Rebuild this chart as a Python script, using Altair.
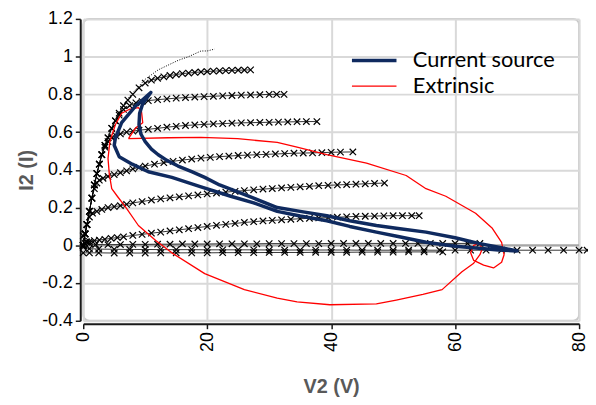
import altair as alt
import pandas as pd

# ---------------- data ----------------
# measured I-V curves (V2 in V, I2 in A), crosses
a_x = [0, 0.3, 0.6, 1, 1.4, 1.8, 2.2, 2.6, 3, 3.5, 4, 4.6, 5.2, 5.8, 6.5, 7.2, 8, 9, 10, 11, 12, 13, 14, 15, 16, 17, 18, 19, 20, 21, 22, 23, 24, 25, 26, 27]
a_y = [0, 0.06, 0.11, 0.18, 0.25, 0.32, 0.38, 0.43, 0.48, 0.53, 0.57, 0.62, 0.66, 0.7, 0.74, 0.77, 0.8, 0.835, 0.86, 0.875, 0.885, 0.893, 0.9, 0.905, 0.91, 0.913, 0.916, 0.919, 0.921, 0.923, 0.925, 0.926, 0.927, 0.928, 0.929, 0.93]

b_x = [0, 0.3, 0.6, 1, 1.4, 1.8, 2.2, 2.6, 3, 3.5, 4, 4.6, 5.2, 5.8, 6.5, 7.5, 8.5, 9.5, 10.5, 12, 13.5, 15, 16.5, 18, 19.5, 21, 22.5, 24, 25.5, 27, 28.5, 30, 31.2, 32.4]
b_y = [0, 0.06, 0.11, 0.18, 0.25, 0.32, 0.38, 0.43, 0.48, 0.53, 0.57, 0.62, 0.66, 0.69, 0.72, 0.74, 0.755, 0.762, 0.767, 0.772, 0.776, 0.78, 0.783, 0.786, 0.788, 0.79, 0.792, 0.794, 0.796, 0.797, 0.798, 0.8, 0.8, 0.8]

c_x = [0, 0.3, 0.6, 1, 1.4, 1.8, 2.2, 2.6, 3, 3.5, 4, 4.6, 5.3, 6, 7, 8, 9, 10.5, 12, 13.5, 15, 16.5, 18, 19.5, 21, 22.5, 24, 25.5, 27, 28.5, 30, 31.5, 33, 34.5, 36, 37.7]
c_y = [0, 0.06, 0.11, 0.18, 0.25, 0.32, 0.38, 0.43, 0.48, 0.52, 0.55, 0.57, 0.58, 0.59, 0.6, 0.605, 0.61, 0.615, 0.62, 0.626, 0.631, 0.635, 0.638, 0.641, 0.643, 0.645, 0.647, 0.649, 0.65, 0.651, 0.652, 0.653, 0.654, 0.655, 0.656, 0.656]

d_x = [0, 0.3, 0.6, 1, 1.4, 1.8, 2.2, 2.6, 3.2, 4, 5, 6, 7, 8, 9, 10, 11.5, 13, 14.5, 16, 17.5, 19, 20.5, 22, 23.5, 25, 26.5, 28, 29.5, 31, 32.5, 34, 35.5, 37, 38.5, 40, 41.5, 43.5]
d_y = [0, 0.06, 0.11, 0.18, 0.25, 0.3, 0.33, 0.345, 0.355, 0.365, 0.375, 0.385, 0.395, 0.405, 0.413, 0.42, 0.43, 0.438, 0.445, 0.452, 0.457, 0.462, 0.466, 0.47, 0.473, 0.476, 0.478, 0.48, 0.482, 0.484, 0.486, 0.488, 0.489, 0.49, 0.491, 0.493, 0.494, 0.495]

e_x = [0, 0.3, 0.6, 1, 1.5, 2.2, 3, 4, 5, 6, 7, 8, 9.5, 11, 12.5, 14, 15.5, 17, 18.5, 20, 21.5, 23, 24.5, 26, 27.5, 29, 30.5, 32, 33.5, 35, 36.5, 38, 39.5, 41, 42.5, 44, 45.5, 47, 48.6]
e_y = [0, 0.06, 0.11, 0.15, 0.17, 0.18, 0.19, 0.2, 0.205, 0.21, 0.217, 0.225, 0.232, 0.24, 0.246, 0.252, 0.257, 0.262, 0.267, 0.272, 0.277, 0.282, 0.286, 0.29, 0.294, 0.298, 0.301, 0.304, 0.307, 0.31, 0.313, 0.316, 0.318, 0.32, 0.322, 0.324, 0.326, 0.328, 0.33]

f_x = [0, 0.3, 0.6, 1, 1.8, 2.6, 3.5, 4.5, 5.5, 6.5, 8, 9.5, 11, 12.5, 14, 15.5, 17, 18.5, 20, 21.5, 23, 24.5, 26, 27.5, 29, 30.5, 32, 33.5, 35, 36.5, 38, 39.5, 41, 42.5, 44, 45.5, 47, 48.5, 50, 51.5, 53, 54.2]
f_y = [0, 0.01, 0.015, 0.02, 0.025, 0.028, 0.032, 0.037, 0.041, 0.045, 0.052, 0.058, 0.064, 0.07, 0.076, 0.082, 0.088, 0.094, 0.1, 0.106, 0.111, 0.116, 0.121, 0.125, 0.129, 0.132, 0.135, 0.138, 0.141, 0.143, 0.145, 0.147, 0.149, 0.151, 0.153, 0.154, 0.155, 0.156, 0.157, 0.157, 0.157, 0.157]

g_x = [0, 0.5, 1, 2, 4, 6, 8, 10, 12, 14, 16, 18, 20, 22, 24, 26, 28, 30, 32, 34, 36, 38, 40, 42, 44, 46, 48, 50, 52, 54, 56, 58, 60, 62, 64]
g_y = [0.05, 0.02, 0.01, 0.004, 0.003, 0.004, 0.005, 0.005, 0.006, 0.006, 0.007, 0.007, 0.007, 0.008, 0.008, 0.008, 0.008, 0.009, 0.009, 0.009, 0.009, 0.009, 0.01, 0.01, 0.01, 0.01, 0.01, 0.01, 0.01, 0.01, 0.01, 0.01, 0.01, 0.01, 0.01]

h_x = [0, 1, 2.5, 5, 7.5, 10, 12.5, 15, 17.5, 20, 22.5, 25, 27.5, 30, 32.5, 35, 37.5, 40, 42.5, 45, 47.5, 50, 52.5, 55, 57.5, 60, 62.5, 65, 67.5, 70, 72.5, 75, 77.5, 80, 81.3]
h_y = [-0.01, -0.018, -0.02, -0.021, -0.022, -0.022, -0.023, -0.023, -0.023, -0.024, -0.024, -0.024, -0.024, -0.025, -0.025, -0.025, -0.025, -0.025, -0.025, -0.026, -0.026, -0.026, -0.026, -0.026, -0.026, -0.026, -0.026, -0.026, -0.026, -0.026, -0.026, -0.026, -0.026, -0.026, -0.026]

i_x = [0, 1, 2.5, 5, 7.5, 10, 12.5, 15, 17.5, 20, 22.5, 25, 27.5, 30, 32.5, 35, 37.5, 40, 42.5, 45, 47.5, 50, 52.5, 55, 58]
i_y = [-0.04, -0.04, -0.04, -0.041, -0.041, -0.041, -0.04, -0.04, -0.04, -0.04, -0.039, -0.039, -0.039, -0.038, -0.038, -0.038, -0.037, -0.037, -0.037, -0.036, -0.036, -0.036, -0.035, -0.035, -0.035]

# dotted knee line
knee_x = [0, 0.5, 1, 1.8, 2.5, 3.4, 4.2, 5.8, 7.5, 10, 12.1, 15.3, 17, 19, 20, 21.2]
knee_y = [0, 0.1, 0.18, 0.32, 0.42, 0.53, 0.6, 0.71, 0.79, 0.88, 0.93, 0.98, 1.0, 1.03, 1.03, 1.04]

# "Current source" loadline (closed loop)
cs_x = [10.9, 9.6, 9.1, 9, 9.3, 10, 11, 12.1, 13.5, 15.3, 17.5, 19.6, 22, 24.4, 27.5, 31.3, 35, 39.3, 43, 47.3, 50.5, 55.3, 60, 63.8, 67, 70,
        67, 63.8, 60, 55.3, 51, 47.3, 43, 39.3, 35, 31.3, 27.5, 23.8, 19, 14.3, 10.5, 7.9, 5.8, 5, 5.2, 6.2, 8.5, 10.9]
cs_y = [0.81, 0.75, 0.7, 0.64, 0.59, 0.55, 0.51, 0.48, 0.45, 0.42, 0.39, 0.36, 0.32, 0.29, 0.25, 0.2, 0.18, 0.157, 0.13, 0.105, 0.09, 0.07, 0.04, 0.01, -0.01, -0.03,
        -0.025, -0.016, -0.005, 0.016, 0.045, 0.07, 0.1, 0.13, 0.155, 0.18, 0.225, 0.26, 0.31, 0.36, 0.39, 0.43, 0.47, 0.53, 0.57, 0.65, 0.74, 0.81]

# "Extrinsic" loadline (closed loop)
ex_x = [7.3, 13.7, 19, 24.9, 31.3, 34.5, 39.3, 45.7, 52.1, 55.3, 58.5, 63.3, 66, 67.5, 67.9, 67.5, 66.2, 64.6, 63, 62.5, 63, 63.8, 64.4, 64, 63, 61.1, 57.9, 54.8,
        50.5, 47.3, 39.8, 34.5, 31.3, 26, 19.6, 14.3, 11.7, 8.9, 6.9, 5.5, 4.6, 4.2, 4, 4.3, 5.2, 6.2, 7.4, 8.9, 9.4, 9.6, 8.4, 7.3]
ex_y = [0.565, 0.57, 0.572, 0.565, 0.545, 0.52, 0.48, 0.435, 0.37, 0.3, 0.26, 0.17, 0.09, 0.016, -0.05, -0.09, -0.12, -0.105, -0.08, -0.04, 0, 0.01, -0.016, -0.05, -0.095, -0.14, -0.235, -0.26,
        -0.29, -0.31, -0.315, -0.3, -0.28, -0.235, -0.15, -0.04, 0.026, 0.105, 0.2, 0.26, 0.3, 0.38, 0.46, 0.55, 0.64, 0.7, 0.72, 0.73, 0.71, 0.65, 0.62, 0.565]

y_ticks = [-0.4, -0.2, 0, 0.2, 0.4, 0.6, 0.8, 1, 1.2]
x_ticks = [0, 20, 40, 60, 80]
series_names = ["Current source", "Extrinsic"]
series_colors = ["#0f2a5f", "#ff0000"]
zero_line = [0]

# ---------------- tables ----------------
curves = [("a", a_x, a_y), ("b", b_x, b_y), ("c", c_x, c_y), ("d", d_x, d_y), ("e", e_x, e_y),
          ("f", f_x, f_y), ("g", g_x, g_y), ("h", h_x, h_y), ("i", i_x, i_y)]
rows = []
for name, xs, ys in curves:
    for k, (xv, yv) in enumerate(zip(xs, ys)):
        rows.append({"curve": name, "k": k, "V2": xv, "I2": yv})
iv = pd.DataFrame(rows)

knee = pd.DataFrame({"V2": knee_x, "I2": knee_y, "k": list(range(len(knee_x)))})
cs = pd.DataFrame({"V2": cs_x, "I2": cs_y, "k": list(range(len(cs_x))), "series": series_names[0]})
ex = pd.DataFrame({"V2": ex_x, "I2": ex_y, "k": list(range(len(ex_x))), "series": series_names[1]})
zero = pd.DataFrame({"I2": zero_line})

FONT = "Liberation Sans"
xs = alt.Scale(domain=[0, 80], nice=False, zero=False)
ys = alt.Scale(domain=[-0.4, 1.2], nice=False, zero=False)

x_axis = alt.Axis(values=x_ticks, labelAngle=270, title="V2 (V)", offset=3, labelPadding=3,
                  titlePadding=25, labelExpr="'' + datum.value", labelOverlap=False)
y_axis = alt.Axis(values=y_ticks, title="I2 (I)", offset=3, labelPadding=3, titlePadding=5,
                  labelExpr="'' + datum.value", labelOverlap=False)

X = alt.X("V2:Q", scale=xs, axis=x_axis)
Y = alt.Y("I2:Q", scale=ys, axis=y_axis)

zero_rule = alt.Chart(zero).mark_rule(color="#a6a6a6", strokeWidth=2).encode(y=Y)

iv_lines = alt.Chart(iv).mark_line(color="black", strokeWidth=0.8).encode(
    x=X, y=Y, detail="curve:N", order="k:Q")
iv_pts = alt.Chart(iv).mark_point(shape="M-1,-1L1,1M-1,1L1,-1", filled=False, size=42,
                                  color="black", strokeWidth=1.2, opacity=1).encode(x=X, y=Y)

knee_line = alt.Chart(knee).mark_line(color="black", strokeWidth=1, strokeDash=[1, 1.5]).encode(
    x=X, y=Y, order="k:Q")

color_scale = alt.Scale(domain=series_names, range=series_colors)
width_scale = alt.Scale(domain=series_names, range=[3.5, 1.3])
legend = alt.Legend(title=None, orient="none", legendX=283, legendY=31, symbolType="M-3,0L3,0",
                    symbolSize=225, labelFont="Lato", labelFontSize=22, labelColor="black",
                    labelOffset=28, rowPadding=4, padding=0)

ex_line = alt.Chart(ex).mark_line(strokeJoin="round").encode(
    x=X, y=Y, order="k:Q",
    color=alt.Color("series:N", scale=color_scale, legend=legend),
    strokeWidth=alt.StrokeWidth("series:N", scale=width_scale, legend=legend))
cs_line = alt.Chart(cs).mark_line(strokeJoin="round", strokeCap="round").encode(
    x=X, y=Y, order="k:Q",
    color=alt.Color("series:N", scale=color_scale, legend=legend),
    strokeWidth=alt.StrokeWidth("series:N", scale=width_scale, legend=legend))

chart = alt.layer(zero_rule, iv_lines, iv_pts, knee_line, ex_line, cs_line).properties(
    width=501, height=305,
    autosize=alt.AutoSizeParams(type="none"),
    padding={"left": 76, "top": 9, "right": 9, "bottom": 75},
).configure_view(
    stroke="#c8c8c8", strokeWidth=2, cornerRadius=6
).configure_axis(
    labelFont=FONT, labelFontSize=18, labelColor="black",
    titleFont=FONT, titleFontSize=20, titleFontWeight="bold", titleColor="#595959",
    domainColor="#1a1a1a", domainWidth=2, tickColor="#1a1a1a", tickWidth=1.5, tickSize=5,
    gridColor="#d9d9d9", gridWidth=2
)

chart.save("out.html", embed_options={"renderer": "svg", "actions": False})
